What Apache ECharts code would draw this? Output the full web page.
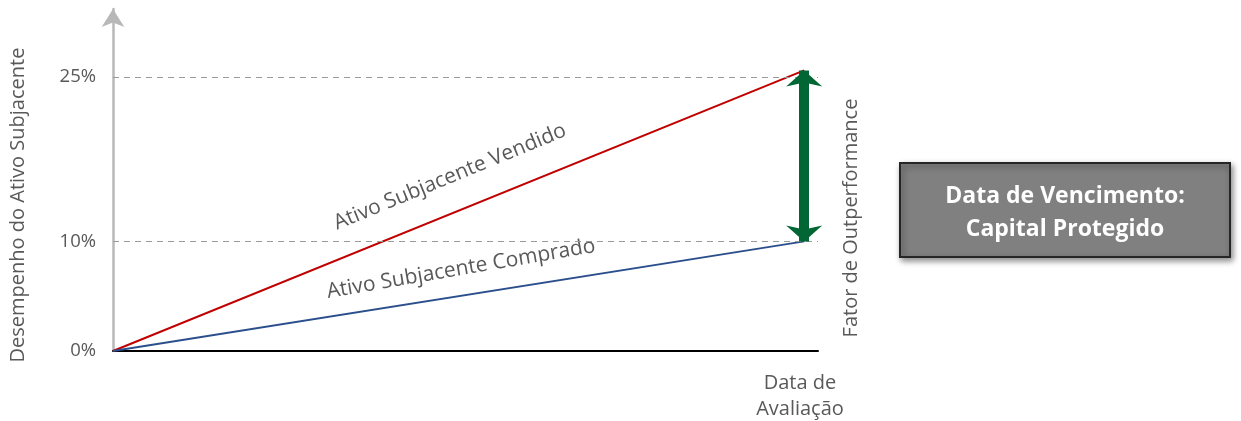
<!DOCTYPE html>
<html>
<head>
<meta charset="utf-8">
<script src="https://cdn.jsdelivr.net/npm/echarts@6/dist/echarts.min.js"></script>
<style>
html,body{margin:0;padding:0;background:#fff;}
#chart{width:1241px;height:421px;}
</style>
</head>
<body>
<div id="chart"></div>
<script>
// Data
const xValues = [0, 1];
const vendido = [0, 25.6];   // Ativo Subjacente Vendido
const comprado = [0, 10];    // Ativo Subjacente Comprado
const yTicks = [0, 10, 25];
const refLines = [10, 25];
const seriesNames = ['Ativo Subjacente Vendido', 'Ativo Subjacente Comprado'];

const FONT = '"Open Sans", Lato, sans-serif';
const GREY = '#595959';

const chart = echarts.init(document.getElementById('chart'));
const option = {
  animation: false,
  grid: { left: 113, right: 423, top: 9, bottom: 70, containLabel: false },
  xAxis: {
    type: 'value', min: 0, max: 1.02,
    axisLine: { show: true, lineStyle: { color: '#000', width: 2 } },
    axisTick: { show: false }, axisLabel: { show: false }, splitLine: { show: false }
  },
  yAxis: {
    type: 'value', min: 0, max: 31.2, interval: 5,
    axisLine: { show: true, symbol: ['none', 'arrow'], symbolSize: [17, 18],
      lineStyle: { color: '#b8b8b8', width: 2.5 } },
    axisTick: { show: false },
    splitLine: { show: false },
    axisLabel: {
      margin: 17, color: GREY, fontFamily: FONT, fontSize: 18.5,
      formatter: v => yTicks.indexOf(v) >= 0 ? v + '%' : ''
    }
  },
  series: [
    {
      name: seriesNames[0], type: 'line', symbol: 'none', z: 3,
      data: xValues.map((x, i) => [x, vendido[i]]),
      lineStyle: { color: '#C00000', width: 2 },
      markLine: {
        silent: true, symbol: 'none', label: { show: false },
        lineStyle: { color: '#9a9a9a', type: [6, 5], width: 1.2 },
        data: refLines.map(v => ({ yAxis: v }))
      }
    },
    {
      name: seriesNames[1], type: 'line', symbol: 'none', z: 3,
      data: xValues.map((x, i) => [x, comprado[i]]),
      lineStyle: { color: '#2B4F8C', width: 2 },
      markLine: {
        silent: true, symbol: ['arrow', 'arrow'], symbolSize: [27, 16],
        label: { show: false },
        lineStyle: { color: '#006633', width: 10, type: 'solid' },
        data: [[
          { coord: [xValues[1], comprado[1]] },
          { coord: [xValues[1], vendido[1]] }
        ]]
      }
    }
  ],
  graphic: [
    { type: 'text', x: 18, y: 205, rotation: Math.PI / 2,
      style: { text: 'Desempenho do Ativo Subjacente', fill: GREY, font: '20px ' + FONT,
        textAlign: 'center', textVerticalAlign: 'middle' } },
    { type: 'text', x: 851, y: 218, rotation: Math.PI / 2,
      style: { text: 'Fator de Outperformance', fill: GREY, font: '20px ' + FONT,
        textAlign: 'center', textVerticalAlign: 'middle' } },
    { type: 'text', x: 800, y: 383,
      style: { text: 'Data de', fill: GREY, font: '20px ' + FONT,
        textAlign: 'center', textVerticalAlign: 'middle' } },
    { type: 'text', x: 800, y: 409,
      style: { text: 'Avaliação', fill: GREY, font: '20px ' + FONT,
        textAlign: 'center', textVerticalAlign: 'middle' } },
    { type: 'text', x: 450, y: 177, rotation: 22.3 * Math.PI / 180,
      style: { text: seriesNames[0], fill: GREY, font: '21px ' + FONT,
        textAlign: 'center', textVerticalAlign: 'middle' } },
    { type: 'text', x: 461, y: 269, rotation: 9.8 * Math.PI / 180,
      style: { text: seriesNames[1], fill: GREY, font: '21px ' + FONT,
        textAlign: 'center', textVerticalAlign: 'middle' } },
    { type: 'rect', shape: { x: 900, y: 163, width: 330, height: 94 },
      style: { fill: '#808080', stroke: '#262626', lineWidth: 2,
        shadowBlur: 6, shadowOffsetX: 2, shadowOffsetY: 3, shadowColor: 'rgba(0,0,0,0.45)' } },
    { type: 'text', x: 1065, y: 196,
      style: { text: 'Data de Vencimento:', fill: '#fff', font: 'bold 23px ' + FONT,
        textAlign: 'center', textVerticalAlign: 'middle' } },
    { type: 'text', x: 1065, y: 229,
      style: { text: 'Capital Protegido', fill: '#fff', font: 'bold 23px ' + FONT,
        textAlign: 'center', textVerticalAlign: 'middle' } }
  ]
};
chart.setOption(option);
</script>
</body>
</html>
